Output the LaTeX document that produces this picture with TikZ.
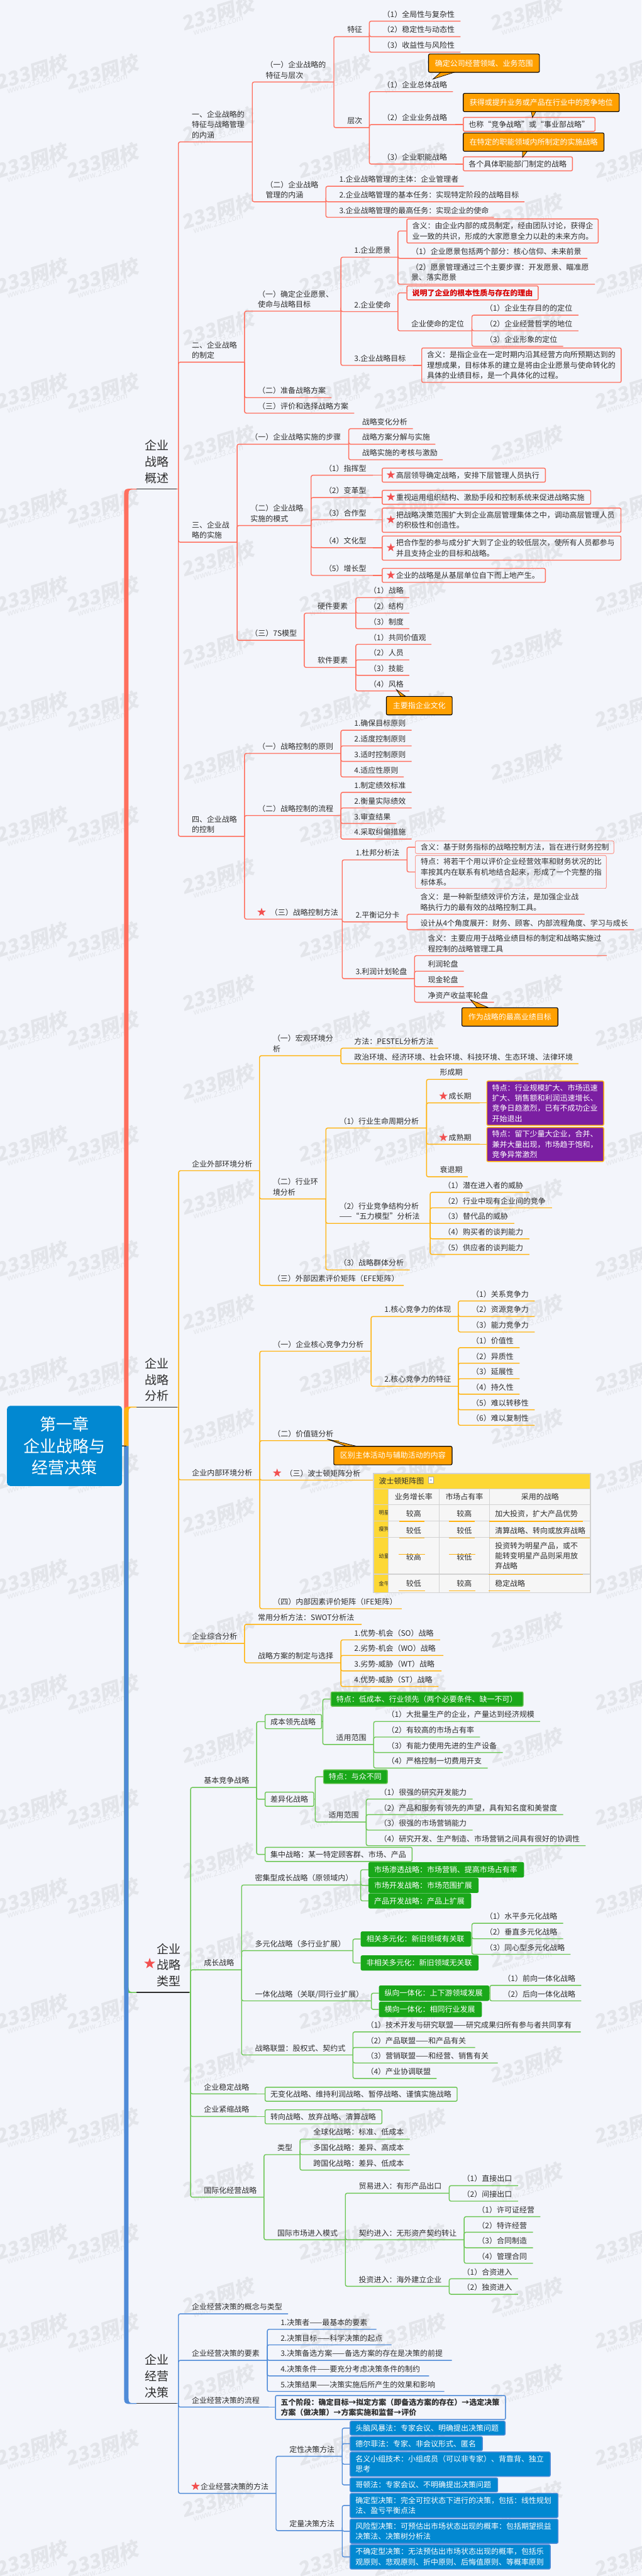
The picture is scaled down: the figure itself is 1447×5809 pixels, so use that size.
\documentclass[tikz,border=0pt]{standalone}
\usepackage{fontspec}
\setmainfont{Noto Sans CJK SC}
\newfontfamily\wmf{Noto Sans CJK SC}[FakeSlant=0.18]
\usetikzlibrary{calc,shapes.geometric}
\definecolor{bgc}{HTML}{F3F5FB}
\definecolor{wmc}{HTML}{E3E5EA}
\definecolor{darkc}{HTML}{2E2E2E}
\definecolor{redb}{HTML}{FF6F5E}
\definecolor{yelb}{HTML}{FFB30F}
\definecolor{greb}{HTML}{6CC655}
\definecolor{blub}{HTML}{4F8BD8}
\definecolor{callc}{HTML}{FFA000}
\definecolor{purc}{HTML}{7B1FA2}
\definecolor{grfc}{HTML}{1AA81A}
\definecolor{blfc}{HTML}{0288D1}
\definecolor{starc}{HTML}{F25050}
\definecolor{tabl}{HTML}{D2D2D2}
\definecolor{tabf}{HTML}{F6F6F6}
\definecolor{taby}{HTML}{FDD835}
\colorlet{curcol}{redb}
\newcommand\tfs{\fontsize{17pt}{23.3pt}\selectfont}
\newcommand\lines[1]{\vbox{\lineskiplimit=-100pt\let\\\cr\halign{\vrule height 1em depth .24em width 0pt\relax ##\hfil\cr #1\crcr}}}
\newcommand\sk{\kern19.5pt\relax}
\newcommand\dn[1]{\lower3pt\hbox{#1}}
\tikzset{
 br/.style={draw=curcol,line width=2pt,rounded corners=4pt},
 dk/.style={draw=darkc,line width=2pt},
 tx/.style={font=\tfs,text=darkc,inner sep=0pt},
 topt/.style={font=\fontsize{27pt}{36.5pt}\selectfont,text=darkc,inner sep=0pt},
 bxo/.style={draw=curcol,line width=2pt,rounded corners=3pt,font=\tfs,text=darkc,align=left},
 bxthin/.style={bxo,line width=.9pt},
 bxred/.style={bxo,font=\tfs\bfseries,text=red!85!black},
 bxbold/.style={bxo,font=\tfs\bfseries},
 bxgre/.style={bxo,draw=greb,fill=grfc,text=white},
 bxgreb/.style={bxo,draw=grfc,fill=grfc,text=white},
 bxblu/.style={bxo,draw=blub,fill=blfc,text=white},
 bxpur/.style={bxo,draw=yelb,fill=purc,text=white},
 callout/.style={draw=black,line width=1.6pt,rounded corners=3pt,fill=callc,font=\tfs,text=white,align=center},
 tailst/.style={draw=black,line width=1pt,fill=callc},
 starst/.style={star,star points=5,star point ratio=2.5,fill=starc,minimum size=20pt,inner sep=0pt},
 cellt/.style={draw=tabl,line width=1.6pt,fill=tabf,font=\tfs,text=darkc,align=center},
 celll/.style={cellt,align=left},
 celly/.style={draw=tabl,line width=1.6pt,fill=taby,font=\fontsize{12pt}{14pt}\selectfont,text=darkc,align=center},
 tul/.style={draw=yelb,line width=2pt},
 wma/.style={text=wmc,font=\wmf\fontsize{44pt}{46pt}\selectfont\bfseries,rotate=17,inner sep=0pt},
 wmb/.style={text=wmc,font=\wmf\fontsize{18pt}{20pt}\selectfont,rotate=17,inner sep=0pt},
}
% top-level branch: colour, name, direction
\newcommand\TK[3]{\fill[#1] ($(rootS)+(-5,0)$) -- ($(rootS |- #2L)+(-5,{9*#3})$) .. controls ($(rootS |- #2L)+(-5,{1.5*#3})$) and ($(rootS |- #2L)+(-1,{-1*#3})$) .. ($(rootS |- #2L)+(7,{-1*#3})$) -- ($(#2L)+(0,{-1*#3})$) -- ($(#2L)+(0,{1*#3})$) -- ($(rootS |- #2L)+(12,{1*#3})$) .. controls ($(rootS |- #2L)+(7,{1.5*#3})$) and ($(rootS |- #2L)+(5,{4*#3})$) .. ($(rootS |- #2L)+(5,{11*#3})$) -- ($(rootS)+(5,0)$) -- cycle;
\draw[#1,line width=2pt] ($(#2R)+(-3.5,0)$) -- (#2R);}
\newcommand\TOP[5][18.6]{\coordinate (#2L) at (308,#3);\coordinate (#2R) at (#4,#3);\draw[dk] (#2L) -- ($(#2R)+(-3.5,0)$);\node[topt,anchor=base west,xshift=#1pt,yshift=15pt] (#2) at (#2L) {\lines{#5}};}
% topic: [offset]{name}{parent}{y}{xR}{text}
\newcommand\TP[6][30]{\coordinate (#2R) at (#5,#4);\coordinate (#2L) at (#3R |- #2R);\draw[br] (#3R) -- (#2L) -- (#2R);\node[tx,anchor=base west,xshift=#1pt,yshift=9pt] (#2) at (#2L) {\lines{#6}};}
% box
\newcommand\BX[7][bxo]{\pgfmathsetmacro\bw{#5-#3}\pgfmathsetmacro\bh{#6-#4}\node[#1,anchor=north west,minimum width=\bw pt,minimum height=\bh pt,text width=\bw pt-24pt,inner xsep=12pt,inner ysep=0pt] (#2) at (#3,#4) {\lines{#7}};}
% box on spine: [style]{name}{parent}{x1}{y1}{x2}{y2}{text}
\newcommand\BC[8][bxo]{\BX[#1]{#2}{#4}{#5}{#6}{#7}{#8}\draw[br] (#3R) |- (#2.west);}
% box straight behind the parent's line
\newcommand\BD[8][bxo]{\BX[#1]{#2}{#4}{#5}{#6}{#7}{#8}\draw[br] (#3R) -- (#3R -| #2.west);}
% callout
\newcommand\CO[9]{\coordinate (#1tip) at #7;\draw[tailst] (#1tip) -- #8 -- #9 -- cycle;\BX[callout]{#1}{#2}{#3}{#4}{#5}{#6}}
\newcommand\STAR[3]{\node[starst] (#1) at (#2,#3) {};}
\newcommand\CL[7][cellt]{\BX[#1]{#2}{#3}{#4}{#5}{#6}{#7}}
\newcommand\UL[4]{\coordinate (#1a) at (#2,#4);\coordinate (#1b) at (#3,#4);\draw[tul] (#1a) -- (#1b);}
\begin{document}
\begin{tikzpicture}[x=1pt,y=-1pt]
\useasboundingbox (0,0) rectangle (1447,5809);
\fill[bgc] (0,0) rectangle (1447,5809);
% watermarks
\foreach \wx in {70,229,753,922,1420}{\foreach \wy in {163,363,623,883,1143,1341,1600,1860,2120,2320,2580,2840,3100,3320,3557,3817,4077,4277,4537,4795,5057,5257,5520,5770}{
 \node[wma] (wa\wx-\wy) at (\wx,\wy) {233网校};
 \node[wmb] (wb\wx-\wy) at (\wx+2,\wy+26) {www.233.com};
}}
\foreach \wx in {490,1185}{\foreach \wy in {30,282,477,740,1000,1260,1460,1720,1977,2240,2440,2700,2960,3218,3418,3677,3937,4197,4397,4657,4917,5177,5373,5637}{
 \node[wma] (wa\wx-\wy) at (\wx,\wy) {233网校};
 \node[wmb] (wb\wx-\wy) at (\wx+2,\wy+26) {www.233.com};
}}
\coordinate (rootS) at (285,3261);
% top level
\TOP{cA}{1103}{402.4}{企业\\战略\\概述}
\TOP{cB}{3173}{402.9}{企业\\战略\\分析}
\TOP[45]{cC}{4493}{430}{企业\\战略\\类型}
\node[starst,minimum size=26pt] (stC) at (337.6,4428) {};
\TOP{cD}{5420}{402.4}{企业\\经营\\决策}
\TK{redb}{cA}{1}
\TK{yelb}{cB}{1}
\TK{greb}{cC}{-1}
\TK{blub}{cD}{-1}
\node[fill=blfc,rounded corners=7pt,anchor=north west,minimum width=259.3pt,minimum height=180.7pt,inner sep=0pt,text=white,align=center,font=\fontsize{37pt}{49pt}\selectfont] (root) at (15.7,3170) {第一章\\企业战略与\\经营决策};
\draw[dk] (root.east) -- (rootS);
%%%%%%%%%%%% RED
\colorlet{curcol}{redb}
\TP{a}{cA}{320}{569}{一、企业战略的\\特征与战略管理\\的内涵}
\TP{aa}{a}{185}{753}{（一）企业战略的\\特征与层次}
\TP{aaa}{aa}{82.7}{833}{特征}
\TP{aaa1}{aaa}{47.7}{1038.7}{（1）全局性与复杂性}
\TP{aaa2}{aaa}{82.7}{1038.7}{（2）稳定性与动态性}
\TP{aaa3}{aaa}{117.7}{1038.7}{（3）收益性与风险性}
\TP{aab}{aa}{287.7}{833}{层次}
\TP{aab1}{aab}{206.7}{1021.5}{（1）企业总体战略}
\CO{ca1}{965.7}{121}{1215.9}{162.3}{确定公司经营领域、业务范围}{(976.7,178.3)}{(995,162)}{(1028,162)}
\TP{aab2}{aab}{281}{1027}{（2）企业业务战略}
\BD{bxa2}{aab2}{1044}{263.7}{1341}{295.3}{也称“竞争战略”或“事业部战略”}
\CO{ca2}{1044}{209.7}{1396}{251}{获得或提升业务或产品在行业中的竞争地位}{(1201,265)}{(1198,251)}{(1209,251)}
\TP{aab3}{aab}{370}{1027}{（3）企业职能战略}
\BD{bxa3}{aab3}{1044}{352.7}{1290}{384.3}{各个具体职能部门制定的战略}
\CO{ca3}{1044}{299}{1361.5}{340.3}{在特定的职能领域内所制定的实施战略}{(1178.5,355)}{(1178.5,340)}{(1190,340)}
\TP{ab}{a}{455}{735}{（二）企业战略\\管理的内涵}
\TP{ab1}{ab}{420}{1046}{1.企业战略管理的主体：企业管理者}
\TP{ab2}{ab}{455}{1182.9}{2.企业战略管理的基本任务：实现特定阶段的战略目标}
\TP{ab3}{ab}{490}{1114}{3.企业战略管理的最高任务：实现企业的使命}
%
\TP{b}{cA}{816.7}{551.6}{二、企业战略\\的制定}
\TP{ba}{b}{701.7}{768.9}{（一）确定企业愿景、\\使命与战略目标}
\TP{baa}{ba}{580}{897.6}{1.企业愿景}
\BC{bxv}{baa}{916.7}{492.7}{1348.3}{547}{含义：由企业内部的成员制定，经由团队讨论，获得企\\业一致的共识，形成的大家愿意全力以赴的未来方向。}
\TP{baa1}{baa}{582.7}{1324.8}{（1）企业愿景包括两个部分：核心信仰、未来前景}
\TP{baa2}{baa}{641}{1341.7}{（2）愿景管理通过三个主要步骤：开发愿景、瞄准愿\\景、落实愿景}
\TP{bab}{ba}{702.7}{897.6}{2.企业使命}
\BC[bxred]{bxm}{bab}{916.7}{643.7}{1212.9}{675.3}{说明了企业的根本性质与存在的理由}
\TP{babb}{bab}{746}{1064.4}{企业使命的定位}
\TP{babb1}{babb}{710.7}{1304.4}{（1）企业生存目的的定位}
\TP{babb2}{babb}{746}{1304.4}{（2）企业经营哲学的地位}
\TP{babb3}{babb}{781}{1270}{（3）企业形象的定位}
\TP{bac}{ba}{824}{932}{3.企业战略目标}
\BD{bxg}{bac}{950.3}{783.7}{1400}{861.3}{含义：是指企业在一定时期内沿其经营方向所预期达到的\\理想成果，目标体系的建立是将由企业愿景与使命转化的\\具体的业绩目标，是一个具体化的过程。}
\TP{bb}{b}{896.7}{747.6}{（二）准备战略方案}
\TP{bc}{b}{931.7}{798.9}{（三）评价和选择战略方案}
%
\TP{c}{cA}{1222.7}{534.8}{三、企业战\\略的实施}
\TP{ca}{c}{1001.7}{786.5}{（一）企业战略实施的步骤}
\TP{ca1t}{ca}{966.7}{931.3}{战略变化分析}
\TP{ca2t}{ca}{1001.7}{981.8}{战略方案分解与实施}
\TP{ca3t}{ca}{1036.7}{998.6}{战略实施的考核与激励}
\TP{cb}{c}{1185}{701.6}{（二）企业战略\\实施的模式}
\TP{cb1}{cb}{1071.7}{841}{（1）指挥型}
\BD{bxc1}{cb1}{861}{1054.7}{1229}{1086.3}{\sk 高层领导确定战略，安排下层管理人员执行}
\STAR{sc1}{881.5}{1071}
\TP{cb2}{cb}{1122}{841}{（2）变革型}
\BD{bxc2}{cb2}{861}{1104.7}{1331.4}{1136.3}{\sk 重视运用组织结构、激励手段和控制系统来促进战略实施}
\STAR{sc2}{881.5}{1121}
\TP{cb3}{cb}{1172}{841}{（3）合作型}
\BD{bxc3}{cb3}{861}{1144.7}{1399.5}{1199.3}{\sk 把战略决策范围扩大到企业高层管理集体之中，调动高层管理人员\\\sk 的积极性和创造性。}
\STAR{sc3}{881.5}{1172}
\TP{cb4}{cb}{1235}{841}{（4）文化型}
\BD{bxc4}{cb4}{861}{1207.7}{1399.5}{1262.3}{\sk 把合作型的参与成分扩大到了企业的较低层次，使所有人员都参与\\\sk 并且支持企业的目标和战略。}
\STAR{sc4}{881.5}{1235}
\TP{cb5}{cb}{1297.7}{841}{（5）增长型}
\BD{bxc5}{cb5}{861}{1280.7}{1229}{1312.3}{\sk 企业的战略是从基层单位自下而上地产生。}
\STAR{sc5}{881.5}{1297}
\TP{cc}{c}{1444}{686.2}{（三）7S模型}
\TP{cca}{cc}{1382.7}{802.5}{硬件要素}
\TP{cca1}{cca}{1347.7}{923}{（1）战略}
\TP{cca2}{cca}{1382.7}{923}{（2）结构}
\TP{cca3}{cca}{1417.7}{923}{（3）制度}
\TP{ccb}{cc}{1505}{802.5}{软件要素}
\TP{ccb1}{ccb}{1453}{973.2}{（1）共同价值观}
\TP{ccb2}{ccb}{1488}{923}{（2）人员}
\TP{ccb3}{ccb}{1523}{923}{（3）技能}
\TP{ccb4}{ccb}{1558}{923}{（4）风格}
\CO{ca4}{870.6}{1569.7}{1019}{1611.3}{主要指企业文化}{(894,1555)}{(903.5,1570)}{(914.5,1570)}
%
\TP{d}{cA}{1886}{551.6}{四、企业战略\\的控制}
\TP{da}{d}{1699}{768.9}{（一）战略控制的原则}
\TP{da1}{da}{1646.7}{928.4}{1.确保目标原则}
\TP{da2}{da}{1682}{928.4}{2.适度控制原则}
\TP{da3}{da}{1717}{928.4}{3.适时控制原则}
\TP{da4}{da}{1752}{910.8}{4.适应性原则}
\TP{db}{d}{1839}{768.9}{（二）战略控制的流程}
\TP{db1}{db}{1786.7}{928.4}{1.制定绩效标准}
\TP{db2}{db}{1822}{928.4}{2.衡量实际绩效}
\TP{db3}{db}{1857}{894}{3.审查结果}
\TP{db4}{db}{1892}{928.4}{4.采取纠偏措施}
\TP[58]{dc}{d}{2072.7}{771.8}{（三）战略控制方法}
\STAR{sd}{590}{2057}
\TP{dc1}{dc}{1939}{918}{1.杜邦分析法}
\BC[bxthin]{bxd1}{dc1}{936.4}{1895.7}{1384}{1924.3}{含义：基于财务指标的战略控制方法，旨在进行财务控制}
\BC[bxthin]{bxd2}{dc1}{936.4}{1928.7}{1367}{2003}{特点：将若干个用以评价企业经营效率和财务状况的比\\率按其内在联系有机地结合起来，形成了一个完整的指\\标体系。}
\TP{dc2}{dc}{2079}{918}{2.平衡记分卡}
\TP{dc2a}{dc2}{2061.7}{1318.3}{含义：是一种新型绩效评价方法，是加强企业战\\略执行力的最有效的战略控制工具。}
\TP{dc2b}{dc2}{2096.7}{1430}{设计从4个角度展开：财务、顾客、内部流程角度、学习与成长}
\TP{dc3}{dc}{2207}{935}{3.利润计划轮盘}
\TP{dc3a}{dc3}{2155}{1368.7}{含义：主要应用于战略业绩目标的制定和战略实施过\\程控制的战略管理工具}
\TP{dc3b}{dc3}{2190}{1046}{利润轮盘}
\TP{dc3c}{dc3}{2225}{1046}{现金轮盘}
\TP{dc3d}{dc3}{2260}{1114}{净资产收益率轮盘}
\CO{ca5}{1041}{2271.7}{1257.5}{2313.3}{作为战略的最高业绩目标}{(1060.8,2254.3)}{(1075.5,2272)}{(1101,2272)}
%%%%%%%%%%%% YELLOW
\colorlet{curcol}{yelb}
\TP{e}{cB}{2640}{585.3}{企业外部环境分析}
\TP{ea}{e}{2380.7}{768.9}{（一）宏观环境分\\析}
\TP{ea1}{ea}{2363.7}{988.4}{方法：PESTEL分析方法}
\TP{ea2}{ea}{2398.7}{1304.4}{政治环境、经济环境、社会环境、科技环境、生态环境、法律环境}
\TP{eb}{e}{2703.7}{735}{（二）行业环\\境分析}
\TP{eb1}{eb}{2543.7}{962}{（1）行业生命周期分析}
\TP{eb1a}{eb1}{2434}{1055}{形成期}
\TP[50]{eb1b}{eb1}{2487}{1082}{成长期}
\STAR{se1}{1000}{2471.7}
\BD[bxpur]{bxe1}{eb1b}{1097}{2436.7}{1360.7}{2536.7}{特点：行业规模扩大、市场迅速\\扩大、销售额和利润迅速增长、\\竞争日趋激烈，已有不成功企业\\开始退出}
\TP[50]{eb1c}{eb1}{2580.3}{1082}{成熟期}
\STAR{se2}{1000}{2565}
\BD[bxpur]{bxe2}{eb1c}{1097}{2541.3}{1360.7}{2618.3}{特点：留下少量大企业，合并、\\兼并大量出现，市场趋于饱和，\\竞争异常激烈}
\TP{eb1d}{eb1}{2653.7}{1055}{衰退期}
\TP{eb2}{eb}{2758.7}{970.3}{（2）行业竞争结构分析\\——“五力模型”分析法}
\TP{eb21}{eb2}{2688.7}{1194}{（1）潜在进入者的威胁}
\TP{eb22}{eb2}{2723.7}{1245}{（2）行业中现有企业间的竞争}
\TP{eb23}{eb2}{2758.7}{1160}{（3）替代品的威胁}
\TP{eb24}{eb2}{2793.7}{1194}{（4）购买者的谈判能力}
\TP{eb25}{eb2}{2828.7}{1194}{（5）供应者的谈判能力}
\TP{eb3}{eb}{2863.7}{924}{（3）战略群体分析}
\TP{ec}{e}{2898.7}{910.8}{（三）外部因素评价矩阵（EFE矩阵）}
%
\TP{f}{cB}{3337}{586}{企业内部环境分析}
\TP{fa}{f}{3047}{837}{（一）企业核心竞争力分析}
\TP{fa1}{fa}{2968.7}{1033.7}{1.核心竞争力的体现}
\TP{fa11}{fa1}{2933.7}{1206}{（1）关系竞争力}
\TP{fa12}{fa1}{2968.7}{1206}{（2）资源竞争力}
\TP{fa13}{fa1}{3003.7}{1206}{（3）能力竞争力}
\TP{fa2}{fa}{3126}{1033.7}{2.核心竞争力的特征}
\TP{fa21}{fa2}{3039}{1172}{（1）价值性}
\TP{fa22}{fa2}{3074}{1172}{（2）异质性}
\TP{fa23}{fa2}{3109}{1172}{（3）延展性}
\TP{fa24}{fa2}{3144}{1172}{（4）持久性}
\TP{fa25}{fa2}{3179}{1206}{（5）难以转移性}
\TP{fa26}{fa2}{3214}{1206}{（6）难以复制性}
\TP{fb}{f}{3248.7}{765}{（二）价值链分析}
\CO{ca6}{752}{3260.7}{1018.8}{3302.3}{区别主体活动与辅助活动的内容}{(738,3245)}{(780,3261)}{(803,3261)}
\TP[57]{fc}{f}{3337.7}{841.6}{（三）波士顿矩阵分析}
\STAR{sf}{625}{3321.7}
% table
\node[fill=taby,draw=tabl,line width=1.6pt,anchor=north west,minimum width=489.2pt,minimum height=35pt,inner sep=0pt,font=\tfs,text=darkc,align=left,text width=465pt,inner xsep=12pt] (ttitle) at (841.6,3322) {\lines{波士顿矩阵图}};
\node[draw=gray!70,fill=white,line width=.8pt,minimum width=11pt,minimum height=14pt,inner sep=0pt,text=blub,font=\fontsize{11pt}{11pt}\selectfont] (ticon) at (972,3338) {+};
\CL[celly]{t00}{841.6}{3357}{875}{3391.7}{}
\CL{t01}{875}{3357}{989.3}{3391.7}{业务增长率}
\CL{t02}{989.3}{3357}{1103.7}{3391.7}{市场占有率}
\CL{t03}{1103.7}{3357}{1330.8}{3391.7}{采用的战略}
\CL[celly]{t10}{841.6}{3391.7}{875}{3429}{明星}
\CL{t11}{875}{3391.7}{989.3}{3429}{\dn{较高}}
\CL{t12}{989.3}{3391.7}{1103.7}{3429}{\dn{较高}}
\CL[celll]{t13}{1103.7}{3391.7}{1330.8}{3429}{\dn{加大投资，扩大产品优势}}
\CL[celly]{t20}{841.6}{3429}{875}{3466.4}{瘦狗}
\CL{t21}{875}{3429}{989.3}{3466.4}{\dn{较低}}
\CL{t22}{989.3}{3429}{1103.7}{3466.4}{\dn{较低}}
\CL[celll]{t23}{1103.7}{3429}{1330.8}{3466.4}{\dn{清算战略、转向或放弃战略}}
\CL[celly]{t30}{841.6}{3466.4}{875}{3549}{幼童}
\CL{t31}{875}{3466.4}{989.3}{3549}{\dn{较高}}
\CL{t32}{989.3}{3466.4}{1103.7}{3549}{\dn{较低}}
\CL[celll]{t33}{1103.7}{3466.4}{1330.8}{3549}{投资转为明星产品，或不\\能转变明星产品则采用放\\弃战略}
\CL[celly]{t40}{841.6}{3549}{875}{3591}{金牛}
\CL{t41}{875}{3549}{989.3}{3591}{较低}
\CL{t42}{989.3}{3549}{1103.7}{3591}{较高}
\CL[celll]{t43}{1103.7}{3549}{1330.8}{3591}{稳定战略}
\UL{ua}{900}{957}{3430.7}\UL{ub}{1013}{1071}{3430.7}\UL{uc}{1104}{1314}{3430.7}
\UL{ud}{900}{957}{3468}\UL{ue}{1013}{1071}{3468}\UL{uf}{1104}{1330}{3468}
\UL{ug}{899}{958}{3505}\UL{uh}{1013}{1071.7}{3505}\UL{ui}{1102}{1314}{3550.7}
\UL{uj}{899}{958}{3587.7}\UL{uk}{1013}{1071.7}{3587.7}\UL{ul}{1102}{1195}{3587.7}
\TP{fd}{f}{3627.7}{906}{（四）内部因素评价矩阵（IFE矩阵）}
%
\TP{g}{cB}{3706}{551.6}{企业综合分析}
\TP{ga}{g}{3663}{815.7}{常用分析方法：SWOT分析法}
\TP{gb}{g}{3749.7}{768.9}{战略方案的制定与选择}
\TP{gb1}{gb}{3698}{992.7}{1.优势-机会（SO）战略}
\TP{gb2}{gb}{3733}{1000}{2.劣势-机会（WO）战略}
\TP{gb3}{gb}{3768}{995.7}{3.劣势-威胁（WT）战略}
\TP{gb4}{gb}{3803}{989}{4.优势-威胁（ST）战略}
%%%%%%%%%%%% GREEN
\colorlet{curcol}{greb}
\TP{h}{cC}{4030.7}{578.7}{基本竞争战略}
\BC{hb1}{h}{597}{3865.3}{724.3}{3897.3}{成本领先战略}
\coordinate (hb1R) at (728,3881.7);
\draw[br] (hb1.east) -- (hb1R);
\BC[bxgre]{hb1a}{hb1}{745.5}{3814.3}{1179}{3846.7}{特点：低成本、行业领先（两个必要条件、缺一不可）}
\TP{hb1b}{hb1}{3934}{842.8}{适用范围}
\TP{hb1b1}{hb1b}{3882}{1218}{（1）大批量生产的企业，产量达到经济规模}
\TP{hb1b2}{hb1b}{3917}{1082.7}{（2）有较高的市场占有率}
\TP{hb1b3}{hb1b}{3952}{1133.9}{（3）有能力使用先进的生产设备}
\TP{hb1b4}{hb1b}{3987}{1100}{（4）严格控制一切费用开支}
\BC{hb2}{h}{597}{4040.3}{706.7}{4072.3}{差异化战略}
\coordinate (hb2R) at (711,4056.7);
\draw[br] (hb2.east) -- (hb2R);
\BC[bxgre]{hb2a}{hb2}{728.7}{3990}{872.8}{4021}{特点：与众不同}
\TP{hb2b}{hb2}{4108.7}{826}{适用范围}
\TP{hb2b1}{hb2b}{4057}{1066}{（1）很强的研究开发能力}
\TP{hb2b2}{hb2b}{4092}{1270}{（2）产品和服务有领先的声望，具有知名度和美誉度}
\TP{hb2b3}{hb2b}{4127}{1066}{（3）很强的市场营销能力}
\TP{hb2b4}{hb2b}{4162}{1321}{（4）研究开发、生产制造、市场营销之间具有很好的协调性}
\BC{hb3}{h}{597}{4164.7}{928.4}{4196.7}{集中战略：某一特定顾客群、市场、产品}
%
\TP{i}{cC}{4442}{545}{成长战略}
\TP{ia}{i}{4250.7}{813.5}{密集型成长战略（原领域内）}
\BC[bxgreb]{ia1}{ia}{831}{4199}{1180}{4231.7}{市场渗透战略：市场营销、提高市场占有率}
\BC[bxgreb]{ia2}{ia}{831}{4234.3}{1077.6}{4266.7}{市场开发战略：市场范围扩展}
\BC[bxgreb]{ia3}{ia}{831}{4269.3}{1060.8}{4301.7}{产品开发战略：产品上扩展}
\TP{ib}{i}{4398.7}{796}{多元化战略（多行业扩展）}
\BC[bxgreb]{ib1}{ib}{813.5}{4355.3}{1060.8}{4387.7}{相关多元化：新旧领域有关联}
\coordinate (ib1R) at (1064.4,4372);
\draw[br] (ib1.east) -- (ib1R);
\TP{ib11}{ib1}{4337}{1270}{（1）水平多元化战略}
\TP{ib12}{ib1}{4372}{1270}{（2）垂直多元化战略}
\TP{ib13}{ib1}{4407}{1286.8}{（3）同心型多元化战略}
\BC[bxgreb]{ib2}{ib}{813.5}{4409.3}{1077.6}{4441.7}{非相关多元化：新旧领域无关联}
\TP{ic}{i}{4512}{837.7}{一体化战略（关联/同行业扩展）}
\BC[bxgreb]{ic1}{ic}{854.5}{4477.3}{1101.7}{4510}{纵向一体化：上下游领域发展}
\coordinate (ic1R) at (1105,4494);
\draw[br] (ic1.east) -- (ic1R);
\TP{ic11}{ic1}{4477}{1310.8}{（1）前向一体化战略}
\TP{ic12}{ic1}{4512}{1310.8}{（2）后向一体化战略}
\BC[bxgreb]{ic2}{ic}{854.5}{4514}{1084.9}{4546.7}{横向一体化：相同行业发展}
\TP{id}{i}{4634}{796}{战略联盟：股权式、契约式}
\TP{id1}{id}{4582}{1310}{（1）技术开发与研究联盟——研究成果归所有参与者共同享有}
\TP{id2}{id}{4617}{1071.7}{（2）产品联盟——和产品有关}
\TP{id3}{id}{4652}{1122.8}{（3）营销联盟——和经营、销售有关}
\TP{id4}{id}{4687}{984.7}{（4）产业协调联盟}
\TP{j}{cC}{4721.7}{578.7}{企业稳定战略}
\BD{bxj}{j}{597}{4705.7}{1030}{4737.3}{无变化战略、维持利润战略、暂停战略、谨慎实施战略}
\TP{k}{cC}{4772.7}{578.7}{企业紧缩战略}
\BD{bxk}{k}{597}{4756.7}{860.3}{4788.3}{转向战略、放弃战略、清算战略}
\TP{l}{cC}{4954.7}{595.5}{国际化经营战略}
\TP{la}{l}{4858.7}{676.7}{类型}
\TP{la1}{la}{4823.7}{924}{全球化战略：标准、低成本}
\TP{la2}{la}{4858.7}{924}{多国化战略：差异、高成本}
\TP{la3}{la}{4893.7}{924}{跨国化战略：差异、低成本}
\TP{lb}{l}{5050.7}{779}{国际市场进入模式}
\TP{lb1}{lb}{4945.7}{1013.2}{贸易进入：有形产品出口}
\TP{lb11}{lb1}{4928.7}{1168.3}{（1）直接出口}
\TP{lb12}{lb1}{4963.7}{1168.3}{（2）间接出口}
\TP{lb2}{lb}{5050.7}{1046.9}{契约进入：无形资产契约转让}
\TP{lb21}{lb2}{4998.7}{1218.8}{（1）许可证经营}
\TP{lb22}{lb2}{5033.7}{1202}{（2）特许经营}
\TP{lb23}{lb2}{5068.7}{1202}{（3）合同制造}
\TP{lb24}{lb2}{5103.7}{1202}{（4）管理合同}
\TP{lb3}{lb}{5155.7}{1013.2}{投资进入：海外建立企业}
\TP{lb31}{lb3}{5138.7}{1168.3}{（1）合资进入}
\TP{lb32}{lb3}{5173.7}{1168.3}{（2）独资进入}
%%%%%%%%%%%% BLUE
\colorlet{curcol}{blub}
\TP{m}{cD}{5217.7}{649.7}{企业经营决策的概念与类型}
\TP{n}{cD}{5322.7}{602.8}{企业经营决策的要素}
\TP{n1}{n}{5252.7}{849}{1.决策者——最基本的要素}
\TP{n2}{n}{5287.7}{883}{2.决策目标——科学决策的起点}
\TP{n3}{n}{5322.7}{1019}{3.决策备选方案——备选方案的存在是决策的前提}
\TP{n4}{n}{5357.7}{967.9}{4.决策条件——要充分考虑决策条件的制约}
\TP{n5}{n}{5392.7}{1002}{5.决策结果——决策实施后所产生的效果和影响}
\TP{o}{cD}{5428}{606}{企业经营决策的流程}
\BD[bxbold]{bxo1}{o}{620.4}{5401}{1139}{5455}{五个阶段：确定目标→拟定方案（即备选方案的存在）→选定决策\\方案（做决策）→方案实施和监督→评价}
\TP[50]{p}{cD}{5622.7}{622.6}{企业经营决策的方法}
\STAR{sp}{441}{5606.7}
\TP{pa}{p}{5539}{771.8}{定性决策方法}
\BC[bxblu]{pa1}{pa}{788.7}{5458.7}{1138.3}{5490.3}{头脑风暴法：专家会议、明确提出决策问题}
\BC[bxblu]{pa2}{pa}{788.7}{5493.7}{1087}{5525.3}{德尔菲法：专家、非会议形式、匿名}
\BC[bxblu]{pa3}{pa}{788.7}{5528.3}{1240}{5583.3}{名义小组技术：小组成员（可以非专家）、背靠背、独立\\思考}
\BC[bxblu]{pa4}{pa}{788.7}{5586.7}{1121.5}{5618.3}{哥顿法：专家会议、不明确提出决策问题}
\TP{pb}{p}{5706.7}{771.8}{定量决策方法}
\BC[bxblu]{pb1}{pb}{788.7}{5621.7}{1257.5}{5676.3}{确定型决策：完全可控状态下进行的决策，包括：线性规划\\法、盈亏平衡点法}
\BC[bxblu]{pb2}{pb}{788.7}{5679.7}{1257.5}{5734.3}{风险型决策：可预估出市场状态出现的概率：包括期望损益\\决策法、决策树分析法}
\BC[bxblu]{pb3}{pb}{788.7}{5737.3}{1240}{5792.3}{不确定型决策：无法预估出市场状态出现的概率，包括乐\\观原则、悲观原则、折中原则、后悔值原则、等概率原则}
\end{tikzpicture}
\end{document}
